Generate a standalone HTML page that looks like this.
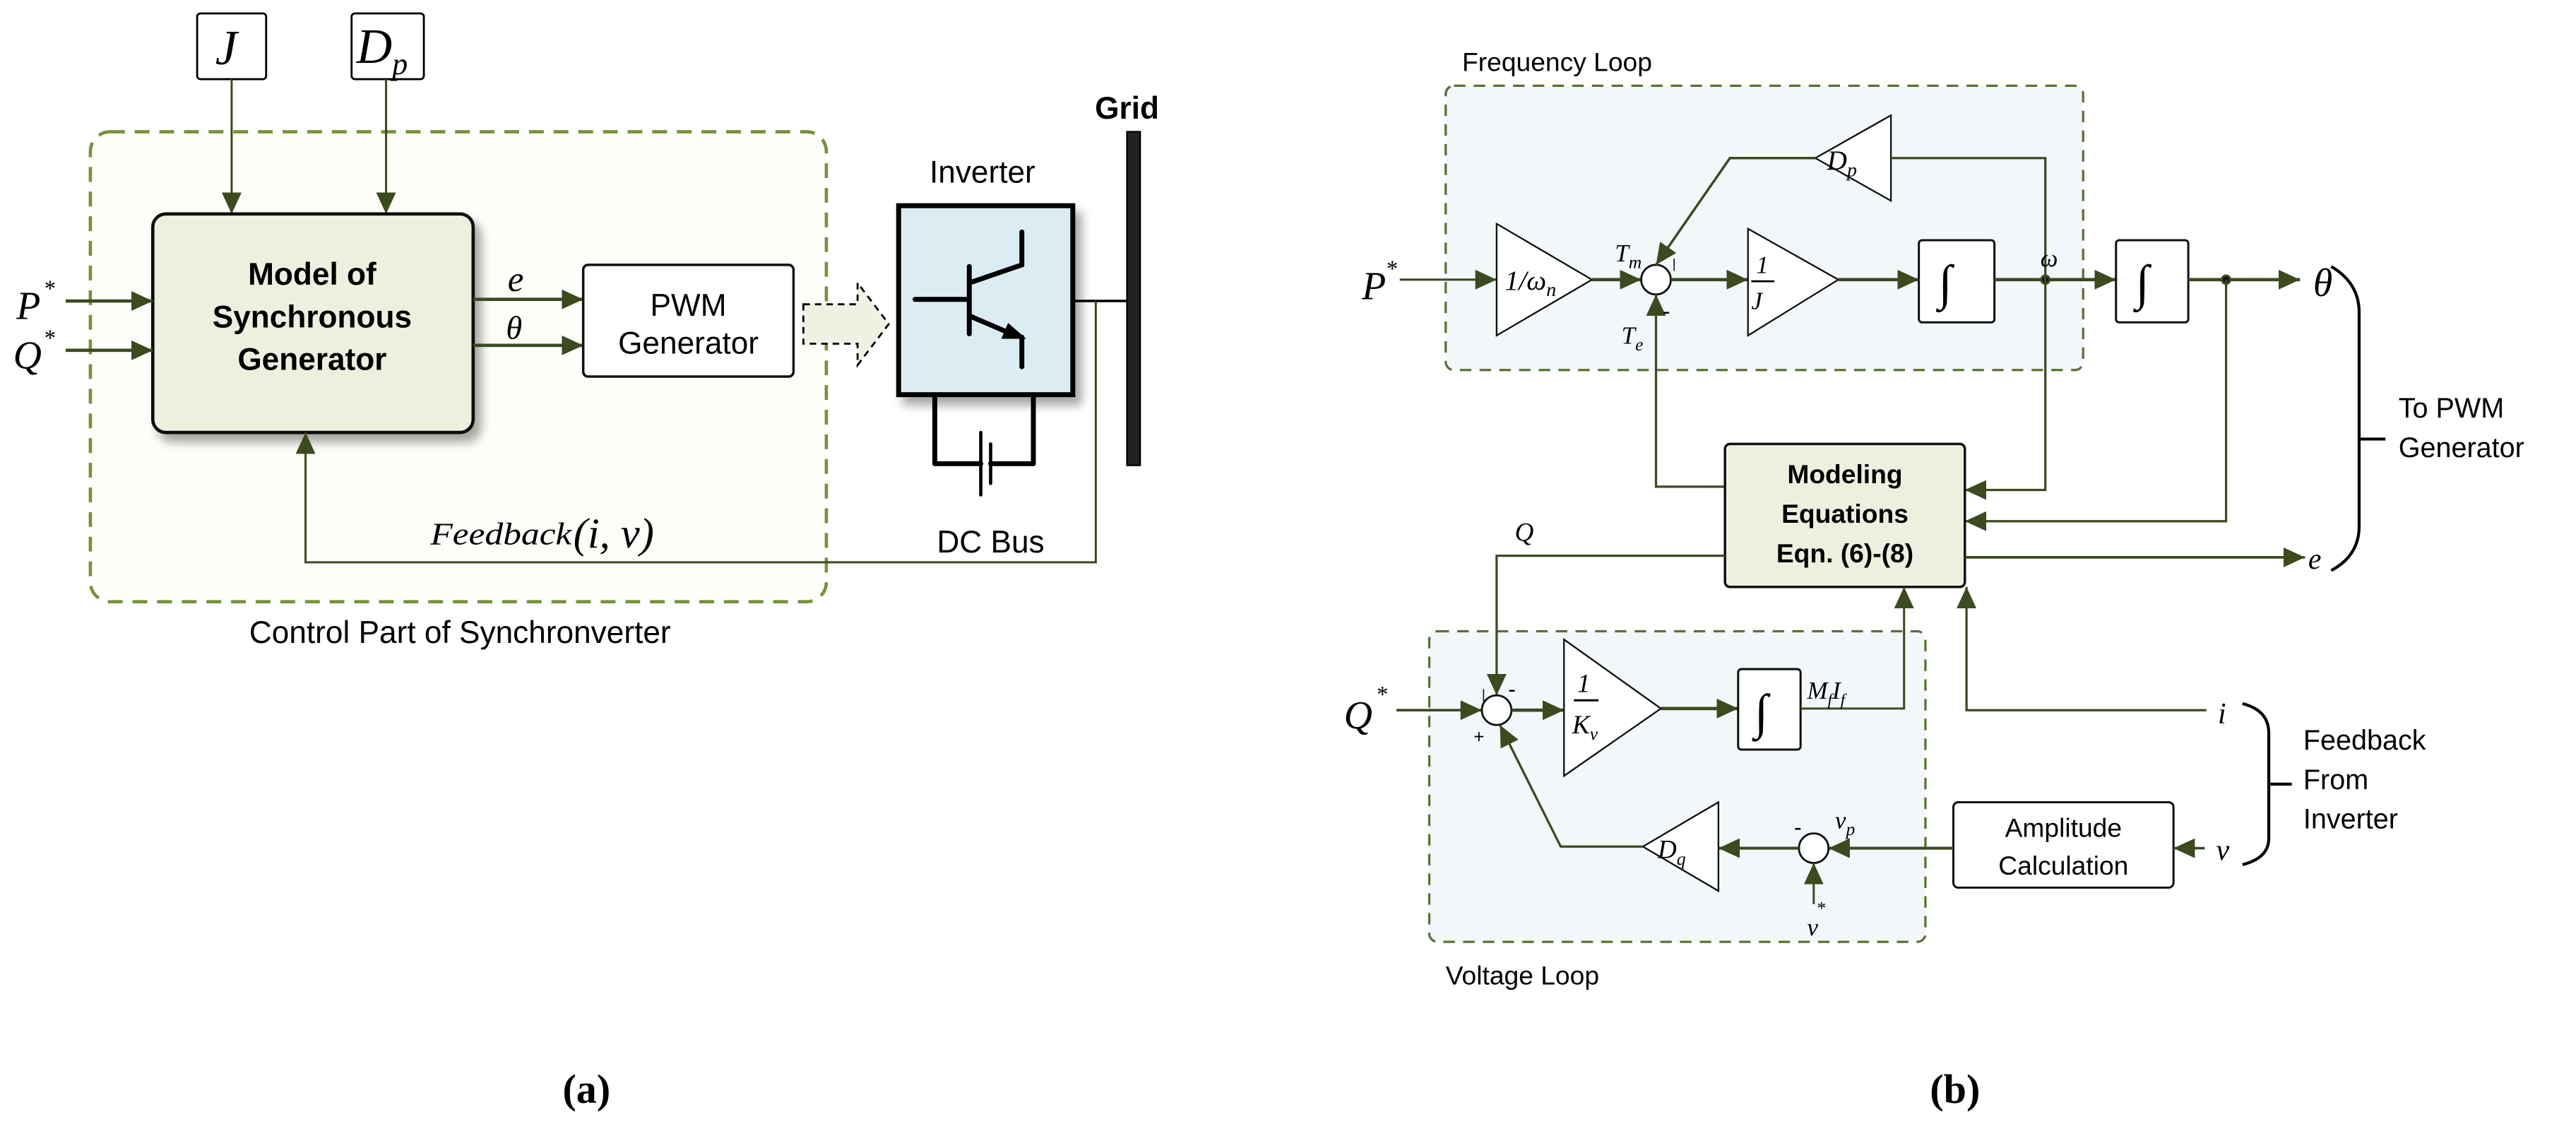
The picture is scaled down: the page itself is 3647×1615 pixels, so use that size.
<!DOCTYPE html>
<html><head><meta charset="utf-8"><style>html,body{margin:0;padding:0;background:#fff}svg{display:block}</style></head>
<body>
<svg width="3647" height="1615" viewBox="0 0 1568 694" xmlns="http://www.w3.org/2000/svg" font-family="'Liberation Sans',sans-serif">
<defs>
<marker id="A" viewBox="0 0 10 10" refX="10" refY="5" markerWidth="13" markerHeight="12" orient="auto" markerUnits="userSpaceOnUse" preserveAspectRatio="none"><path d="M0,0L10,5L0,10z" fill="#3b4a1f"/></marker>
<filter id="sh" x="-10%" y="-10%" width="130%" height="130%"><feDropShadow dx="4" dy="5" stdDeviation="3" flood-color="#000" flood-opacity="0.35"/></filter>
</defs>
<g fill="none" stroke="#3b4a1f" stroke-width="1.3">
<rect x="55" y="80" width="448" height="286" rx="12" fill="#fdfdf9" stroke="#76923c" stroke-width="2" stroke-dasharray="9,6"/>
<rect x="120" y="8" width="42" height="40" rx="2" fill="#fff" stroke="#000" stroke-width="1.2"/>
<rect x="214" y="8" width="44" height="40" rx="2" fill="#fff" stroke="#000" stroke-width="1.2"/>
<line x1="141" y1="48" x2="141" y2="130" marker-end="url(#A)"/>
<line x1="235" y1="48" x2="235" y2="130" marker-end="url(#A)"/>
<rect x="93" y="130" width="195" height="133" rx="8" fill="#ebf1de" stroke="#111" stroke-width="2" filter="url(#sh)"/>
<line x1="40" y1="183" x2="93" y2="183" stroke-width="2" marker-end="url(#A)"/>
<line x1="40" y1="213" x2="93" y2="213" stroke-width="2" marker-end="url(#A)"/>
<line x1="288" y1="182" x2="355" y2="182" stroke-width="2" marker-end="url(#A)"/>
<line x1="288" y1="210" x2="355" y2="210" stroke-width="2" marker-end="url(#A)"/>
<rect x="355" y="161" width="128" height="68" rx="3" fill="#fff" stroke="#111" stroke-width="1.5"/>
<path d="M489,185H522V172L541,197L522,222V209H489Z" fill="#eef2e2" stroke="#000" stroke-width="1.2" stroke-dasharray="4,3"/>
<rect x="547" y="125" width="106" height="115" fill="#dbedf3" stroke="#000" stroke-width="3" filter="url(#sh)"/>
<g stroke="#000" stroke-width="3" stroke-linecap="round">
<line x1="557" y1="182" x2="589" y2="182"/>
<line x1="590" y1="162" x2="590" y2="203"/>
<polyline points="590,172 622,161 622,141"/>
<polyline points="590,192 618,204"/>
<line x1="622" y1="205" x2="622" y2="223"/>
<line x1="569" y1="240" x2="569" y2="282"/><line x1="629" y1="240" x2="629" y2="282"/>
<line x1="569" y1="282" x2="597" y2="282"/><line x1="603" y1="282" x2="629" y2="282"/>
<line x1="597" y1="263" x2="597" y2="301" stroke-width="2"/>
<line x1="603" y1="270" x2="603" y2="294" stroke-width="2"/>
</g>
<path d="M622,205L611,205L614,198Z" fill="#000" stroke="#000" stroke-width="2"/>
<line x1="653" y1="183" x2="688" y2="183" stroke="#000" stroke-width="1.5"/>
<rect x="686" y="80" width="8" height="203" fill="#222" stroke="#000" stroke-width="1"/>
<polyline points="667,183 667,342 186,342 186,263" marker-end="url(#A)"/>
<rect x="880" y="52" width="388" height="173" rx="5" fill="#f2f7fa" stroke="#5c7030" stroke-width="1.4" stroke-dasharray="7,5"/>
<rect x="870" y="384" width="302" height="189" rx="5" fill="#f2f7fa" stroke="#5c7030" stroke-width="1.4" stroke-dasharray="7,5"/>
<line x1="852" y1="170" x2="911" y2="170" marker-end="url(#A)"/>
<path d="M911,136L911,204L969,170Z" fill="#fff" stroke="#111" stroke-width="1"/>
<line x1="969" y1="170" x2="999" y2="170" stroke-width="2" marker-end="url(#A)"/>
<circle cx="1008" cy="170" r="9" fill="#fff" stroke="#111" stroke-width="1.2"/>
<line x1="1017" y1="170" x2="1064" y2="170" stroke-width="2" marker-end="url(#A)"/>
<path d="M1064,139L1064,204L1119,170Z" fill="#fff" stroke="#111" stroke-width="1"/>
<line x1="1119" y1="170" x2="1168" y2="170" stroke-width="2" marker-end="url(#A)"/>
<rect x="1168" y="146" width="46" height="50" rx="2" fill="#fff" stroke="#111" stroke-width="1.3"/>
<line x1="1214" y1="170" x2="1288" y2="170" stroke-width="2" marker-end="url(#A)"/>
<rect x="1288" y="146" width="44" height="50" rx="2" fill="#fff" stroke="#111" stroke-width="1.3"/>
<line x1="1332" y1="170" x2="1400" y2="170" stroke-width="2" marker-end="url(#A)"/>
<circle cx="1245" cy="170" r="2.5" fill="#111"/><circle cx="1355" cy="170" r="2.5" fill="#111"/>
<path d="M1151,70L1151,122L1105,96Z" fill="#fff" stroke="#111" stroke-width="1"/>
<polyline points="1151,96 1245,96 1245,298 1196,298" stroke-width="1.4" marker-end="url(#A)"/>
<polyline points="1105,96 1053,96 1008,161" stroke-width="1.5" marker-end="url(#A)"/>
<polyline points="1050,296 1008,296 1008,179" stroke-width="1.4" marker-end="url(#A)"/>
<polyline points="1355,170 1355,317 1196,317" stroke-width="1.4" marker-end="url(#A)"/>
<rect x="1050" y="270" width="146" height="87" rx="3" fill="#ebf1de" stroke="#111" stroke-width="1.5"/>
<line x1="1196" y1="339" x2="1403" y2="339" stroke-width="1.6" marker-end="url(#A)"/>
<polyline points="1050,338 911,338 911,423" stroke-width="1.4" marker-end="url(#A)"/>
<line x1="850" y1="432" x2="902" y2="432" stroke-width="1.6" marker-end="url(#A)"/>
<circle cx="911" cy="432" r="9" fill="#fff" stroke="#111" stroke-width="1.2"/>
<line x1="920" y1="432" x2="952" y2="432" stroke-width="2" marker-end="url(#A)"/>
<path d="M952,389L952,472L1011,431Z" fill="#fff" stroke="#111" stroke-width="1"/>
<line x1="1011" y1="431" x2="1058" y2="431" stroke-width="2" marker-end="url(#A)"/>
<rect x="1058" y="407" width="38" height="49" rx="2" fill="#fff" stroke="#111" stroke-width="1.3"/>
<polyline points="1096,431 1159,431 1159,357" stroke-width="1.3" marker-end="url(#A)"/>
<polyline points="1343,432 1197,432 1197,357" stroke-width="1.4" marker-end="url(#A)"/>
<rect x="1189" y="488" width="134" height="52" rx="3" fill="#fff" stroke="#111" stroke-width="1.3"/>
<line x1="1342" y1="516" x2="1323" y2="516" stroke-width="1.6" marker-end="url(#A)"/>
<line x1="1189" y1="516" x2="1113" y2="516" stroke-width="1.8" marker-end="url(#A)"/>
<circle cx="1104" cy="516" r="9" fill="#fff" stroke="#111" stroke-width="1.2"/>
<line x1="1104" y1="550" x2="1104" y2="525" stroke-width="1.3" marker-end="url(#A)"/>
<line x1="1095" y1="516" x2="1046" y2="516" stroke-width="1.8" marker-end="url(#A)"/>
<path d="M1046,488L1046,542L1000,515Z" fill="#fff" stroke="#111" stroke-width="1"/>
<polyline points="1000,515 950,515 913,441" stroke-width="1.4" marker-end="url(#A)"/>
<g stroke="#000" stroke-width="1.8">
<path d="M1419,162Q1436,172 1436,190V320Q1436,338 1419,347"/>
<line x1="1436" y1="267" x2="1452" y2="267"/>
<path d="M1365,428Q1381,432 1381,446V510Q1381,522 1365,526"/>
<line x1="1381" y1="477" x2="1395" y2="477"/>
</g>
</g>
<g font-family="'Liberation Serif',serif" font-style="italic" fill="#000">
<text x="131" y="39" font-size="30">J</text>
<text x="217" y="38" font-size="30">D<tspan font-size="19" dy="7">p</tspan></text>
<text x="10" y="194" font-size="24">P</text><text x="27" y="180" font-size="14" font-style="normal">*</text>
<text x="8" y="224" font-size="24">Q</text><text x="27" y="210" font-size="14" font-style="normal">*</text>
<text x="309" y="177" font-size="22">e</text>
<text x="308" y="206" font-size="20">θ</text>
<text x="262" y="331" font-size="19" textLength="86" lengthAdjust="spacingAndGlyphs">Feedback</text>
<text x="349" y="333" font-size="26">(i, v)</text>
<text x="829" y="182" font-size="24">P</text><text x="844" y="168" font-size="14" font-style="normal">*</text>
<text x="916" y="176" font-size="17">1/ω<tspan font-size="12" dy="4">n</tspan></text>
<text x="983" y="159" font-size="15">T<tspan font-size="11" dy="4">m</tspan></text>
<text x="987" y="209" font-size="15">T<tspan font-size="11" dy="4">e</tspan></text>
<text x="1069" y="166" font-size="15">1</text>
<line x1="1066" y1="171" x2="1080" y2="171" stroke="#000" stroke-width="1.2"/>
<text x="1066" y="188" font-size="15">J</text>
<text x="1180" y="182" font-size="30">∫</text>
<text x="1300" y="182" font-size="30">∫</text>
<text x="1068" y="443" font-size="30">∫</text>
<text x="1242" y="162" font-size="15">ω</text>
<text x="1408" y="180" font-size="24">θ</text>
<text x="1112" y="103" font-size="17">D<tspan font-size="12" dy="4">p</tspan></text>
<text x="922" y="329" font-size="16">Q</text>
<text x="1405" y="346" font-size="18">e</text>
<text x="818" y="443" font-size="24">Q</text><text x="838" y="427" font-size="14" font-style="normal">*</text>
<text x="960" y="421" font-size="16">1</text>
<line x1="958" y1="426" x2="973" y2="426" stroke="#000" stroke-width="1.3"/>
<text x="957" y="446" font-size="16">K<tspan font-size="11" dy="4">v</tspan></text>
<text x="1100" y="425" font-size="15">M<tspan font-size="10" dy="4">f</tspan><tspan dy="-4">I</tspan><tspan font-size="10" dy="4">f</tspan></text>
<text x="1350" y="440" font-size="18">i</text>
<text x="1349" y="523" font-size="18">v</text>
<text x="1117" y="504" font-size="15">v<tspan font-size="11" dy="4">p</tspan></text>
<text x="1100" y="569" font-size="15">v</text><text x="1106" y="556" font-size="11" font-style="normal">*</text>
<text x="1009" y="522" font-size="16">D<tspan font-size="11" dy="4">q</tspan></text>
</g>
<g fill="#000" font-size="10">
<text x="1012" y="194" font-size="14">-</text>
<text x="1018" y="163" font-size="8">|</text>
<text x="902" y="425" font-size="8">|</text>
<text x="918" y="424" font-size="14">-</text>
<text x="897" y="452" font-size="11">+</text>
<text x="1092" y="508" font-size="14">-</text>
</g>
<g fill="#000" text-anchor="middle">
<text x="190" y="173" font-size="19" font-weight="bold">Model of</text>
<text x="190" y="199" font-size="19" font-weight="bold">Synchronous</text>
<text x="190" y="225" font-size="19" font-weight="bold">Generator</text>
<text x="419" y="192" font-size="19">PWM</text>
<text x="419" y="215" font-size="19">Generator</text>
<text x="598" y="111" font-size="19">Inverter</text>
<text x="603" y="336" font-size="19">DC Bus</text>
<text x="686" y="72" font-size="19" font-weight="bold">Grid</text>
<text x="280" y="391" font-size="19">Control Part of Synchronverter</text>
<text x="1123" y="294" font-size="16" font-weight="bold">Modeling</text>
<text x="1123" y="318" font-size="16" font-weight="bold">Equations</text>
<text x="1123" y="342" font-size="16" font-weight="bold">Eqn. (6)-(8)</text>
<text x="1256" y="509" font-size="16">Amplitude</text>
<text x="1256" y="532" font-size="16">Calculation</text>
<text x="357" y="671" font-size="25" font-family="'Liberation Serif',serif" font-weight="bold">(a)</text>
<text x="1190" y="671" font-size="25" font-family="'Liberation Serif',serif" font-weight="bold">(b)</text>
</g>
<g fill="#000" font-size="16">
<text x="890" y="43">Frequency Loop</text>
<text x="880" y="599">Voltage Loop</text>
<text x="1460" y="254" font-size="17">To PWM</text>
<text x="1460" y="278" font-size="17">Generator</text>
<text x="1402" y="456" font-size="17">Feedback</text>
<text x="1402" y="480" font-size="17">From</text>
<text x="1402" y="504" font-size="17">Inverter</text>
</g>
</svg>
</body></html>
